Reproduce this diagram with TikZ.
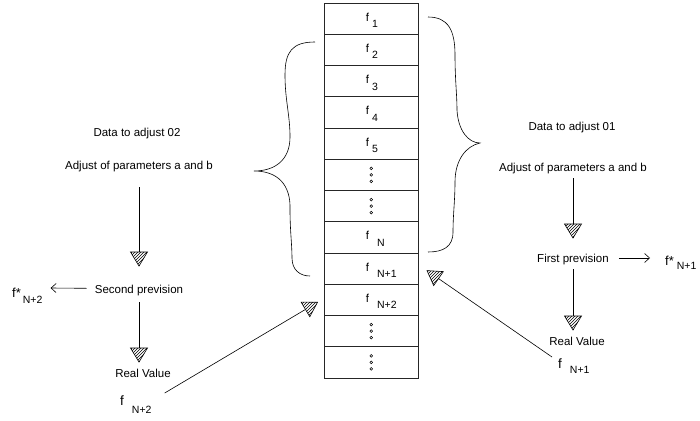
\documentclass[tikz,border=0pt]{standalone}
\usepackage{fontspec}
\setmainfont{Liberation Sans}
\usetikzlibrary{arrows.meta,calc,decorations.markings,patterns}
\newcommand{\fsub}[5]{{\fontsize{#1}{#1}\selectfont f#5}\hspace{#2}\raisebox{-#3}{\fontsize{10.5}{12}\selectfont #4}}
\begin{document}
\begin{tikzpicture}[x=1pt,y=-1pt,
  cell/.style={draw=black!85,line width=0.8pt,minimum width=93.5pt,minimum height=31.25pt,inner sep=0pt,outer sep=0pt},
  flab/.style={anchor=base west,inner sep=0pt},
  txt/.style={anchor=base,inner sep=0pt,font=\fontsize{11.5}{13}\selectfont},
  conn/.style={line width=0.6pt},
  barb/.style={conn,-{Straight Barb[length=5pt,width=9pt]}},
  hatchhead/.style={conn,postaction={decorate},decoration={markings,mark=at position 1 with {
      \fill[white] (0,0) -- (-14,8.5) -- (-14,-8.5) -- cycle;
      \fill[pattern=north east lines] (0,0) -- (-14,8.5) -- (-14,-8.5) -- cycle;
      \draw[line width=0.6pt,line join=miter] (0,0) -- (-14,8.5) -- (-14,-8.5) -- cycle;
  }}},
  brace/.style={line width=0.6pt}]
\useasboundingbox[fill=white] (0,0) rectangle (700,420);

% column of cells
\foreach \i in {1,...,12}
  \node[cell] (c\i) at (371.25,{3+31.25*(\i-0.5)}) {};
\node[flab] (t1) at ($(c1)+(-5.5,2.4)$) {\fsub{11.5}{3pt}{6.5pt}{1}{}};
\node[flab] (t2) at ($(c2)+(-5.5,2.4)$) {\fsub{11.5}{3pt}{6.5pt}{2}{}};
\node[flab] (t3) at ($(c3)+(-5.5,2.4)$) {\fsub{11.5}{3pt}{6.5pt}{3}{}};
\node[flab] (t4) at ($(c4)+(-5.5,2.4)$) {\fsub{11.5}{3pt}{6.5pt}{4}{}};
\node[flab] (t5) at ($(c5)+(-5.5,2.4)$) {\fsub{11.5}{3pt}{6.5pt}{5}{}};
\node[flab] (t8) at ($(c8)+(-5.5,2.4)$) {\fsub{11.5}{8pt}{6.5pt}{N}{}};
\node[flab] (t9) at ($(c9)+(-5.5,2.4)$) {\fsub{11.5}{8pt}{6.5pt}{N+1}{}};
\node[flab] (t10) at ($(c10)+(-5.5,2.4)$) {\fsub{11.5}{8pt}{6.5pt}{N+2}{}};
\foreach \i in {6,7,11,12}
  \foreach \d in {-6.5,0,6.5}
    \draw[line width=0.5pt] ($(c\i)+(0,\d)$) circle (1.3);

% braces
\draw[brace] (315,42) .. controls (292,42) and (285,52) .. (285,75)
  .. controls (285,100) and (290,115) .. (290,137)
  .. controls (290,160) and (275,171) .. (254,171)
  .. controls (278,171) and (291,185) .. (290,210)
  .. controls (290,230) and (292,245) .. (292,258)
  .. controls (292,270) and (300,276) .. (310,276);
\draw[brace] (428,17) .. controls (448,17) and (455,30) .. (455,55)
  .. controls (455,80) and (457,95) .. (457,110)
  .. controls (458,130) and (468,143) .. (480,143)
  .. controls (466,146) and (455,160) .. (455,182)
  .. controls (455,200) and (453,215) .. (453,232)
  .. controls (453,247) and (443,252) .. (428,252);

% left side
\node[txt] (dL) at (137,136.7) {Data to adjust 02};
\node[txt] (adjL) at (139,169.3) {Adjust of parameters a and b};
\node[txt] (secL) at (139,293.3) {Second prevision};
\node[txt] (realL) at (143,377.3) {Real Value};
\node[flab] (fstarL) at (12,297) {\fsub{13}{2pt}{6pt}{N+2}{*}};
\node[flab] (fN2) at (120,405) {\fsub{13.5}{8pt}{8pt}{N+2}{}};

\draw[hatchhead] ($(adjL.base)+(0,17.7)$) -- ($(secL.base)+(0,-27.3)$);
\draw[hatchhead] ($(secL.base)+(0,8.7)$) -- ($(realL.base)+(-4,-15.3)$);
\draw[barb] ($(secL.base west)+(-8,-5)$) -- ($(fstarL.base east)+(8,-9)$);
\coordinate (tipL) at ($(c10.west)+(-7,2.4)$);
\draw[hatchhead] ($(fN2.base east)+(13,-12)$) -- (tipL);

% right side
\node[txt] (dR) at (572,130) {Data to adjust 01};
\node[txt] (adjR) at (573,171.7) {Adjust of parameters a and b};
\node[txt] (firstR) at (573,262.3) {First prevision};
\node[txt] (realR) at (577,345.7) {Real Value};
\node[flab] (fstarR) at (665,265) {\fsub{13}{3pt}{4pt}{N+1}{*}};
\node[flab] (fN1) at (558,368) {\fsub{13.5}{8pt}{5pt}{N+1}{}};

\draw[hatchhead] ($(adjR.base)+(0,6.5)$) -- ($(firstR.base)+(0,-24.3)$);
\draw[hatchhead] ($(firstR.base)+(0,6.7)$) -- ($(realR.base)+(-4,-15.7)$);
\draw[barb] ($(firstR.base east)+(10,-4.3)$) -- ($(fstarR.base west)+(-15,-7)$);
\coordinate (tipR) at ($(c9.east)+(9,2)$);
\draw[hatchhead] ($(fN1.base west)+(-6,-11)$) -- (tipR);
\end{tikzpicture}
\end{document}
